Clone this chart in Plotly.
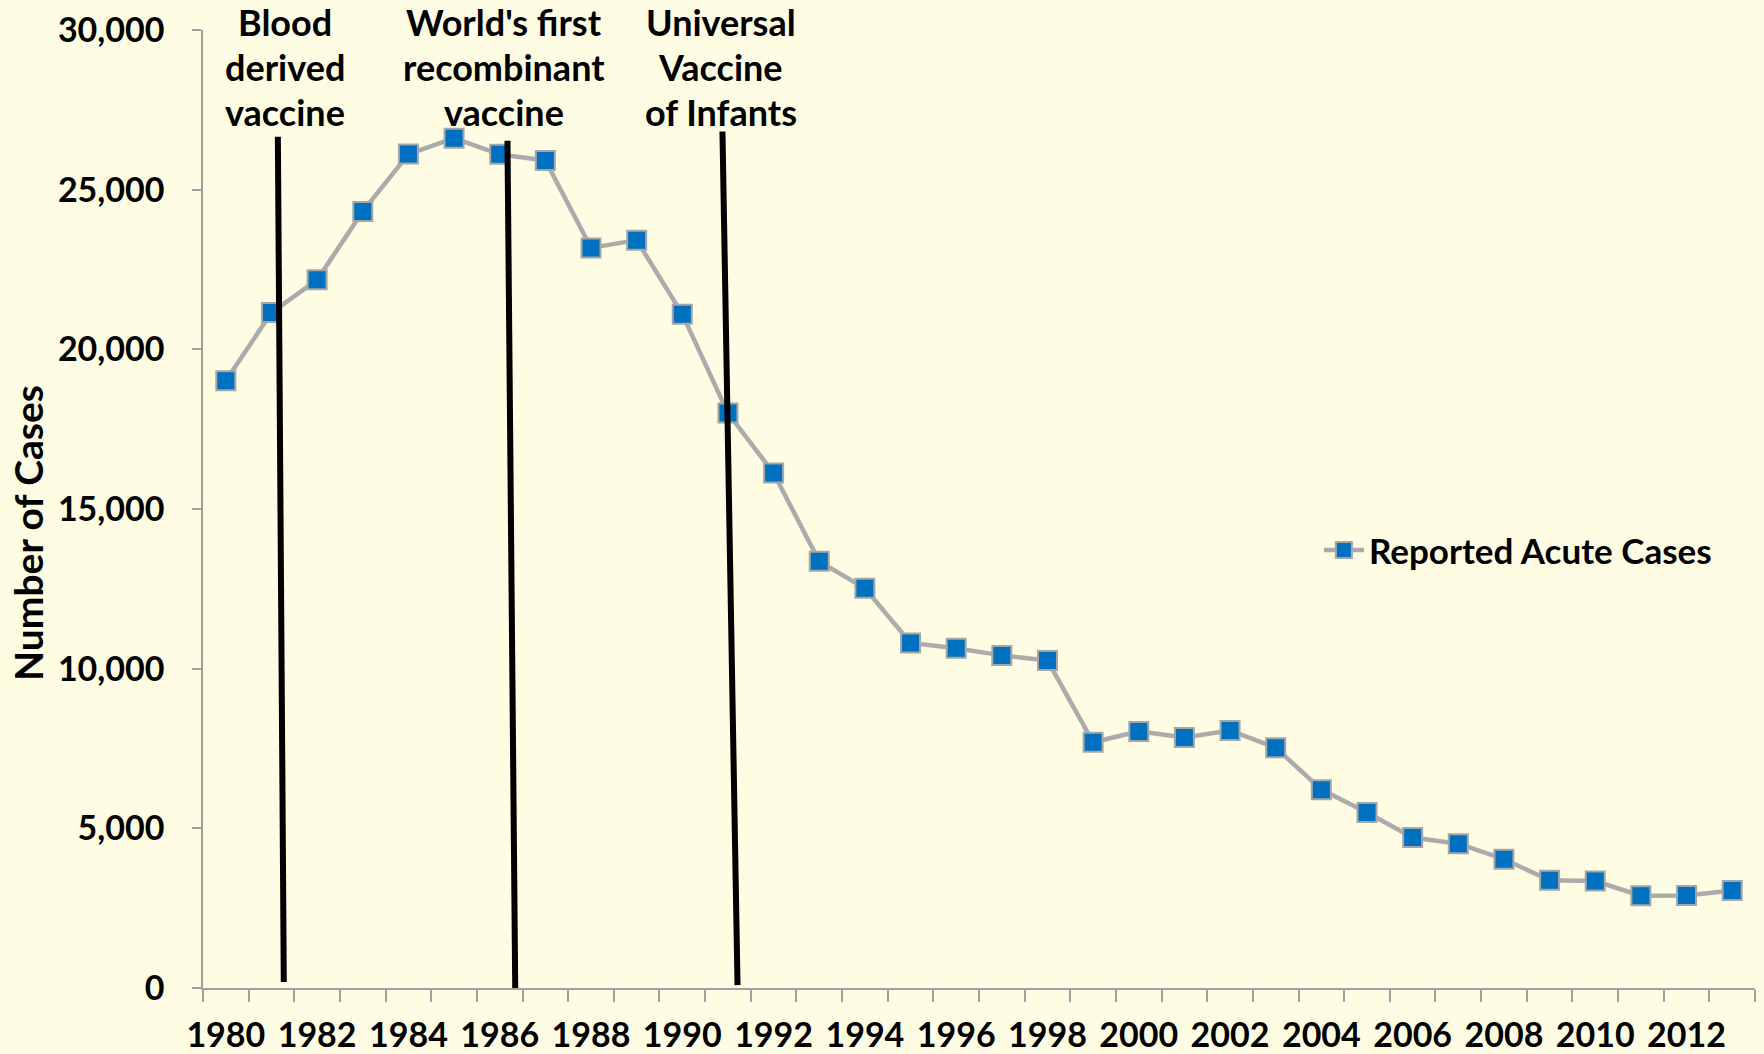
import plotly.graph_objects as go

years = list(range(1980, 2014))
cases = [19015, 21152, 22177, 24318, 26115, 26611, 26107, 25916, 23177, 23419,
         21102, 18003, 16126, 13361, 12517, 10805, 10637, 10416, 10258, 7694,
         8036, 7843, 8064, 7526, 6212, 5494, 4713, 4519, 4033, 3374,
         3350, 2890, 2895, 3050]
tick_years = list(range(1980, 2013, 2))
series_name = "Reported Acute Cases"
y_title = "Number of Cases"

# event markers
event_labels = [["Blood", "derived", "vaccine"],
                ["World's first", "recombinant", "vaccine"],
                ["Universal", "Vaccine", "of Infants"]]
event_label_x = [1981.3, 1986.1, 1990.84]
event_line_top_x = [1981.14, 1986.17, 1990.88]
event_line_bot_x = [1981.27, 1986.34, 1991.21]
event_line_top_y = [26660, 26530, 26820]
event_line_bot_y = [190, 0, 90]
label_line_y_paper = [1.0082, 0.9613, 0.9143]

BG = "#FEFCE3"
FONT = "Lato"

fig = go.Figure()
fig.add_trace(go.Scatter(
    x=years, y=cases, mode="lines+markers", name=series_name,
    line=dict(color="#ABABAB", width=4.5),
    marker=dict(symbol="square", size=19, color="#0070C0",
                line=dict(color="#A6A6A6", width=2)),
    cliponaxis=False,
))

shapes = []
for i in range(len(event_labels)):
    shapes.append(dict(type="line", xref="x", yref="y",
                       x0=event_line_top_x[i], y0=event_line_top_y[i],
                       x1=event_line_bot_x[i], y1=event_line_bot_y[i],
                       line=dict(color="black", width=6)))

annotations = []
for i, lines in enumerate(event_labels):
    for j, txt in enumerate(lines):
        annotations.append(dict(x=event_label_x[i], y=label_line_y_paper[j], xref="x", yref="paper",
                                text=txt, showarrow=False, xanchor="center", yanchor="middle",
                                font=dict(family=FONT, size=36, color="black", weight="bold")))
annotations.append(dict(x=-0.1128, y=0.475, xref="paper", yref="paper", text=y_title,
                        textangle=-90, showarrow=False, xanchor="center", yanchor="middle",
                        font=dict(family=FONT, size=39, color="black", weight="bold")))

fig.update_layout(
    width=1764, height=1054,
    paper_bgcolor=BG, plot_bgcolor=BG,
    margin=dict(l=203, r=9, t=30, b=66),
    shapes=shapes, annotations=annotations,
    showlegend=True,
    legend=dict(x=0.719, y=0.457, xanchor="left", yanchor="middle",
                bgcolor="rgba(0,0,0,0)",
                font=dict(family=FONT, size=35, color="black", weight="bold"),
                itemwidth=40),
    xaxis=dict(range=[1979.5, 2013.5], tickmode="array", tickvals=tick_years,
               ticktext=[str(y) for y in tick_years], showgrid=False, zeroline=False,
               showline=True, linecolor="#A0A0A0", linewidth=1.5, ticks="",
               tickfont=dict(family=FONT, size=34, color="black", weight="bold"),
               ticklabelstandoff=16, automargin=False),
    yaxis=dict(range=[0, 30000], tickvals=[0, 5000, 10000, 15000, 20000, 25000, 30000],
               tickformat=",d", showgrid=False, zeroline=False,
               showline=True, linecolor="#A0A0A0", linewidth=1.5,
               ticks="outside", ticklen=9, tickcolor="#A0A0A0", tickwidth=1.5,
               tickfont=dict(family=FONT, size=34, color="black", weight="bold"),
               ticklabelstandoff=21, automargin=False),
)

fig.update_xaxes(minor=dict(ticks="outside", ticklen=12, tickcolor="#A0A0A0", tickwidth=1.5,
                            tickmode="array", tickvals=[y - 0.5 for y in years] + [2013.5]))

fig.write_html("out.html",
               config={"displayModeBar": False},
               post_script="document.body.style.margin='0';document.body.style.overflow='hidden';document.body.style.background='" + BG + "';")
